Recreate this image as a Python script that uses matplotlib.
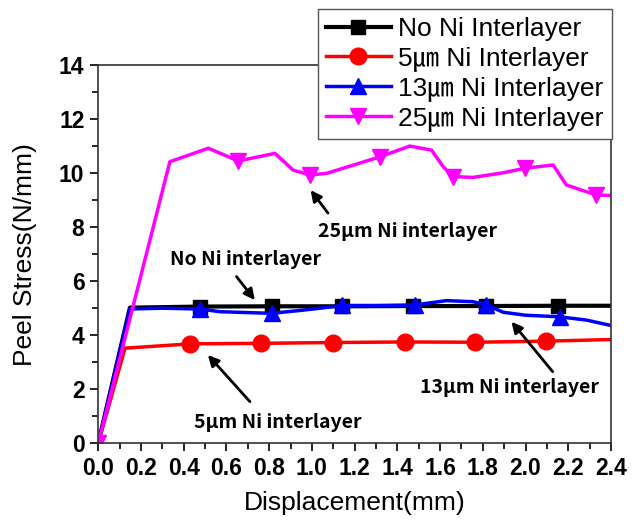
import numpy as np
import matplotlib
matplotlib.use('Agg')
import matplotlib.pyplot as plt
from matplotlib.ticker import MultipleLocator

plt.rcParams['font.family'] = ['Liberation Sans', 'Noto Sans CJK KR']

# peel curves (x in mm, y in N/mm)
black_x = [0, 0.148, 0.476, 0.811, 1.139, 1.474, 1.817, 2.152, 2.4]
black_y = [0, 5.02, 5.06, 5.07, 5.07, 5.08, 5.08, 5.09, 5.09]
black_mk = [2, 3, 4, 5, 6, 7]

red_x = [0, 0.125, 0.43, 0.764, 1.099, 1.434, 1.762, 2.098, 2.4]
red_y = [0, 3.52, 3.68, 3.70, 3.73, 3.75, 3.74, 3.78, 3.84]
red_mk = [2, 3, 4, 5, 6, 7]

blue_x = [0, 0.148, 0.3, 0.476, 0.569, 0.811, 0.95, 1.039, 1.139, 1.3, 1.482,
          1.63, 1.754, 1.817, 1.895, 2.0, 2.16, 2.285, 2.4]
blue_y = [0, 4.97, 5.0, 4.97, 4.87, 4.81, 4.92, 5.0, 5.1, 5.1, 5.12,
          5.28, 5.24, 5.12, 4.85, 4.74, 4.68, 4.56, 4.36]
blue_mk = [3, 5, 8, 10, 13, 16]

pink_x = [0, 0.335, 0.515, 0.655, 0.827, 0.912, 0.99, 1.069, 1.318, 1.458, 1.56,
          1.614, 1.661, 1.754, 1.895, 1.996, 2.129, 2.191, 2.285, 2.332, 2.4]
pink_y = [0, 10.42, 10.92, 10.45, 10.73, 10.11, 9.93, 9.99, 10.6, 11.0, 10.85,
          10.24, 9.87, 9.84, 10.01, 10.18, 10.3, 9.56, 9.31, 9.19, 9.17]
pink_mk = [0, 3, 6, 8, 12, 15, 19]

legend_labels = ['No Ni Interlayer', '5\u339b Ni Interlayer',
                 '13\u339b Ni Interlayer', '25\u339b Ni Interlayer']

# annotation text, text position, arrow tail, arrow head
notes = ['25\u03bcm Ni interlayer', 'No Ni interlayer',
         '13\u03bcm Ni interlayer', '5\u03bcm Ni interlayer']
note_xy = [(1.449, 7.82), (0.689, 6.80), (1.926, 2.07), (0.838, 0.77)]
tail_xy = [(1.075, 8.52), (0.647, 6.17), (2.127, 2.65), (0.71, 1.54)]
head_xy = [(0.994, 9.37), (0.733, 5.3), (1.934, 4.5), (0.513, 3.27)]

fig = plt.figure(figsize=(6.32, 5.23), dpi=100)
ax = fig.add_axes([0.1555, 0.1524, 0.8113, 0.7233])

ax.plot(black_x, black_y, color='black', lw=3, marker='s', ms=10,
        markevery=black_mk, label=legend_labels[0])
ax.plot(red_x, red_y, color='red', lw=2.5, marker='o', ms=12,
        markevery=red_mk, label=legend_labels[1])
ax.plot(blue_x, blue_y, color='blue', lw=2.5, marker='^', ms=11,
        markevery=blue_mk, label=legend_labels[2])
ax.plot(pink_x, pink_y, color='magenta', lw=2.5, marker='v', ms=11,
        markevery=pink_mk, label=legend_labels[3])

for t, p, a, b in zip(notes, note_xy, tail_xy, head_xy):
    ax.text(p[0], p[1], t, ha='center', va='center', fontsize=14,
            fontweight='bold', family=['Noto Sans CJK KR'])
    ax.annotate('', xy=b, xytext=a,
                arrowprops=dict(arrowstyle='-|>', color='black', lw=2,
                                mutation_scale=16, shrinkA=0, shrinkB=0))

ax.set_xlim(0, 2.4)
ax.set_ylim(0, 14)
ax.xaxis.set_major_locator(MultipleLocator(0.2))
ax.xaxis.set_minor_locator(MultipleLocator(0.1))
ax.yaxis.set_major_locator(MultipleLocator(2))
ax.yaxis.set_minor_locator(MultipleLocator(1))
ax.xaxis.set_major_formatter(plt.FormatStrFormatter('%.1f'))
ax.tick_params(which='major', direction='out', length=6, width=1.2,
               labelsize=16.5, pad=4)
ax.tick_params(which='minor', direction='out', length=4, width=1.2)
for lab in ax.get_xticklabels() + ax.get_yticklabels():
    lab.set_fontweight('bold')
for s in ax.spines.values():
    s.set_linewidth(1.2)
    s.set_color('#333333')

ax.set_xlabel('Displacement(mm)', fontsize=19, labelpad=8)
ax.set_ylabel('Peel Stress(N/mm)', fontsize=19, labelpad=16)

leg = fig.legend(loc='upper right', bbox_to_anchor=(0.968, 0.983),
                 fontsize=19, handlelength=2.45, handletextpad=0.3,
                 labelspacing=0.2, borderpad=0.3, borderaxespad=0,
                 fancybox=False, framealpha=1, edgecolor='#555555')
leg.get_frame().set_linewidth(1.0)

fig.savefig('out.png', dpi=100)
